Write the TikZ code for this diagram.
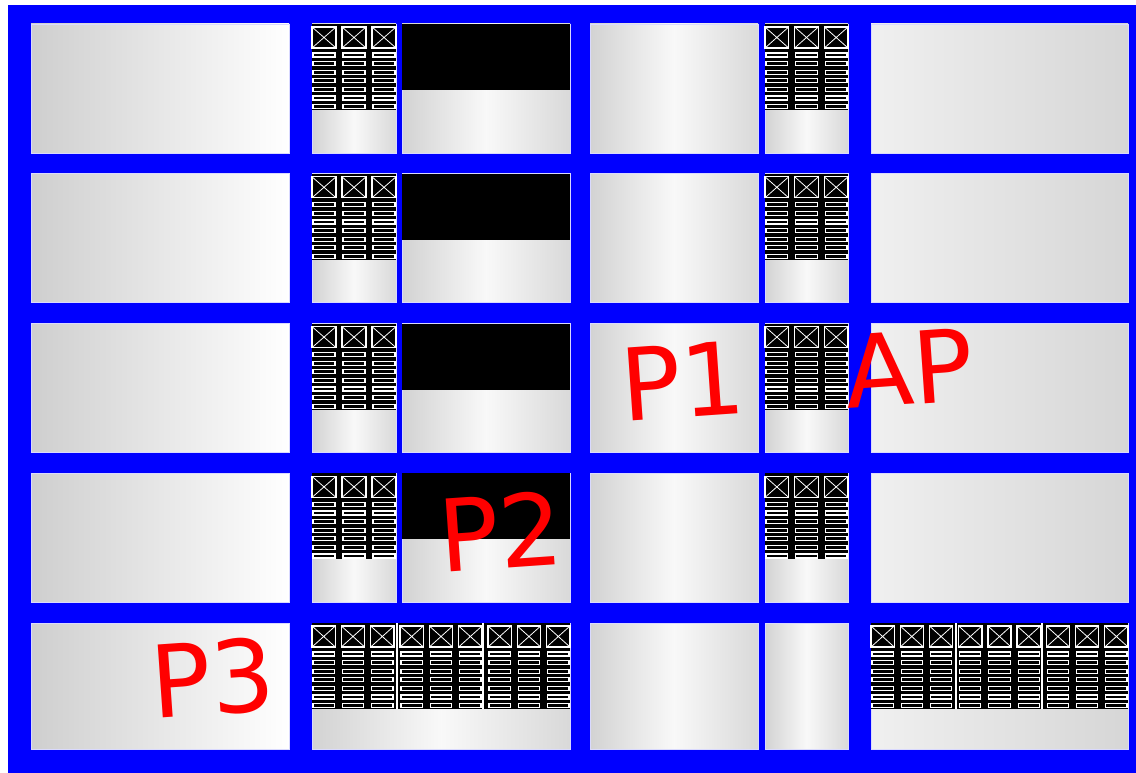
\documentclass[tikz,border=0pt]{standalone}
\usepackage{fontspec}
\newfontfamily\labelfont{DejaVu Sans}
\usetikzlibrary{calc}

\tikzset{
    panel/.style={draw=blue!15!white, line width=0.5pt},
    fadeleft/.style={panel, left color=gray!38, right color=white},
    fademid/.style={panel, left color=gray!35, right color=gray!30, middle color=gray!5},
    faderight/.style={panel, left color=gray!12, right color=gray!32},
    rackline/.style={draw=white, line width=0.65pt},
    tag/.style={text=red, font=\labelfont\fontsize{57}{57}\selectfont, rotate=4, inner sep=0pt}
}

% one row of racks: #1 left x, #2 right x, #3 top y, #4 number of racks
\newcommand{\rackrow}[4]{
    \fill[black] (#1,#3) rectangle (#2,#3+86);
    \pgfmathsetmacro{\rpitch}{(#2-#1+6)/#4}
    \pgfmathsetmacro{\rw}{\rpitch-6}
    \foreach \k in {1,...,#4}{
        \pgfmathsetmacro{\rx}{#1+(\k-1)*\rpitch}
        \draw[rackline, line width=0.8pt] (\rx,#3+3) rectangle ++(\rw,21);
        \draw[rackline, line width=0.45pt] (\rx,#3+3) -- ++(\rw,21) (\rx,#3+24) -- ++(\rw,-21);
        \foreach \s in {0,...,6}
            \draw[rackline] (\rx+1,#3+29+\s*8.6) rectangle ++(\rw-2,4);
    }
}

\begin{document}
\begin{tikzpicture}[x=0.02cm, y=-0.02cm]
    \useasboundingbox (0,0) rectangle (1136,773);
    \fill[white] (0,0) rectangle (1136,773);

    % 1. blue frame
    \fill[blue] (8,5) rectangle (1136,773);

    % 2. the four upper rows of panels
    \foreach \r in {0,...,3} {
        \pgfmathsetmacro{\ty}{24+149.8*\r}
        \draw[fadeleft] (31,\ty) rectangle ++(258,129);
        \draw[fademid] (312,\ty) rectangle ++(84,129);
        \draw[fademid] (402,\ty) rectangle ++(168,129);
        \fill[black] (402,\ty) rectangle ++(168,66);
        \draw[fademid] (590,\ty) rectangle ++(168,129);
        \draw[fademid] (765,\ty) rectangle ++(83,129);
        \draw[faderight] (871,\ty) rectangle ++(257,129);
        \rackrow{312}{396}{\ty}{3}
        \rackrow{765}{848}{\ty}{3}
    }

    % 3. bottom row
    \draw[fadeleft] (31,623) rectangle (289,749);
    \draw[fademid] (312,623) rectangle (570,749);
    \draw[fademid] (590,623) rectangle (758,749);
    \draw[fademid] (765,623) rectangle (848,749);
    \draw[faderight] (871,623) rectangle (1128,749);
    \rackrow{312}{570}{623}{9}
    \rackrow{871}{1128}{623}{9}
    \foreach \x in {397, 483, 956, 1042}
        \draw[white, line width=0.6pt] (\x,623) -- (\x,709);

    % 4. red labels
    \node[tag] (p1) at (683,381) {P1};
    \node[tag] (ap) at (909,368) {AP};
    \node[tag] (p2) at (501,531) {P2};
    \node[tag] (p3) at (213,678) {P3};

\end{tikzpicture}
\end{document}
